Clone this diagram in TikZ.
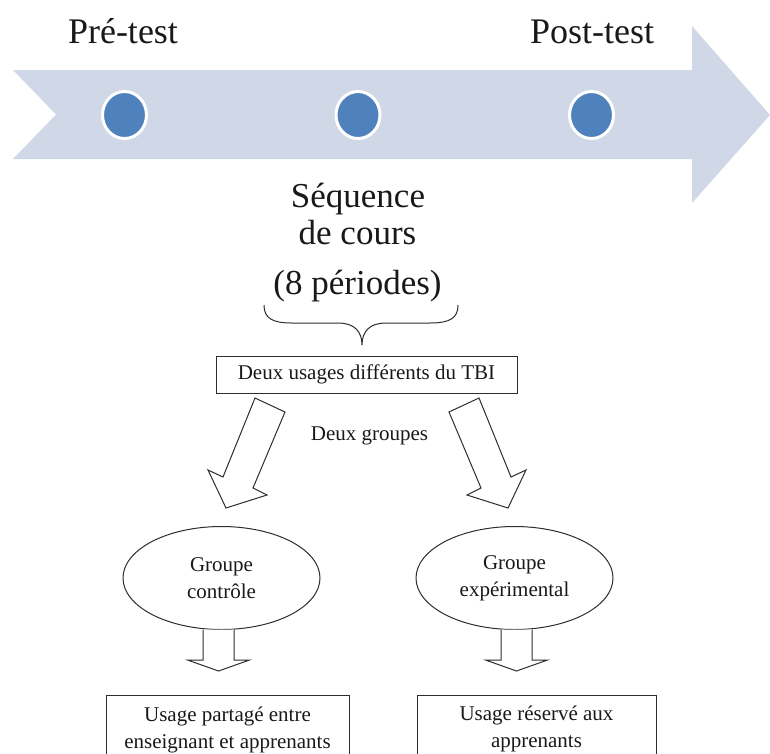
\documentclass[tikz,border=0pt]{standalone}
\usepackage{fontspec}
\setmainfont{Liberation Serif}
\usetikzlibrary{shapes.geometric}
\definecolor{tlfill}{RGB}{208,216,232}
\definecolor{dotfill}{RGB}{79,129,189}
\definecolor{ink}{RGB}{25,25,25}
\definecolor{edge}{RGB}{45,45,45}
\begin{document}
\begin{tikzpicture}[x=1pt,y=-1pt,
  bigtext/.style={font=\fontsize{36}{40}\selectfont, text=ink, inner sep=0, anchor=base},
  seqtext/.style={font=\fontsize{35}{37}\selectfont, text=ink, inner sep=0, anchor=base},
  small/.style={font=\fontsize{21}{27}\selectfont, text=ink},
  dot/.style={ellipse, fill=dotfill, draw=white, line width=3pt, minimum width=44, minimum height=47, inner sep=0},
  boxnode/.style={small, draw=edge, line width=1pt, rectangle, inner sep=0, align=center},
  oval/.style={small, draw=edge, line width=1pt, ellipse, minimum width=197, minimum height=103, inner sep=0, align=center},
  blockarrow/.style={draw=edge, line width=1pt, fill=white, line join=miter},
  bracestyle/.style={draw=edge, line width=1pt}
]
\useasboundingbox (0,0) rectangle (770,753);
\clip (0,0) rectangle (770,753);

% timeline arrow
\fill[tlfill] (13,70) -- (692,70) -- (692,26) -- (770,115) -- (692,203) -- (692,159) -- (13,159) -- (56,114.5) -- cycle;
\node[dot] (d1) at (124.5,115) {};
\node[dot] (d2) at (358,115) {};
\node[dot] (d3) at (591.5,115) {};

\node[bigtext] (pre) at (123,43) {Pré-test};
\node[bigtext] (post) at (592,43) {Post-test};

\node[seqtext] (seq1) at (358,207) {Séquence};
\node[seqtext] (seq2) at (357.5,244) {de cours};
\node[seqtext] (seq3) at (357.5,294) {(8 périodes)};

% brace
\coordinate (bl) at (264,305);
\coordinate (br) at (458,305);
\coordinate (bt) at (362,345);
\draw[bracestyle] (bl) .. controls (264,318) and (272,323) .. (292,323) -- (338,323)
  .. controls (354,323) and (362,331) .. (bt)
  .. controls (362,331) and (370,323) .. (386,323) -- (430,323)
  .. controls (450,323) and (458,318) .. (br);

% box
\node[boxnode, minimum width=301, minimum height=37] (usages) at (366.5,374.5) {Deux usages différents du TBI};
\node[small, inner sep=0] (groupes) at (369.5,436) {Deux groupes};

% diagonal block arrows
\draw[blockarrow] (255,398) -- (285,412) -- (253,488) -- (267,495) -- (226,508) -- (208,470) -- (223,477) -- cycle;
\draw[blockarrow] (479,398) -- (449,412) -- (481,488) -- (467,495) -- (508,508) -- (526,470) -- (511,477) -- cycle;

% ellipses
\node[oval] (ctrl) at (221.5,578) {Groupe\\contrôle};
\node[oval] (expe) at (514.5,578) {Groupe\\expérimental};

% small down arrows
\draw[blockarrow] (203,629.5) -- (203,660) -- (187.5,660) -- (218.5,671) -- (249.5,660) -- (234,660) -- (234,629.5);
\draw[blockarrow] (501,629.5) -- (501,660) -- (485.5,660) -- (516.5,671) -- (547.5,660) -- (532,660) -- (532,629.5);

% bottom boxes
\node[boxnode, minimum width=243, minimum height=68, anchor=north] (shared) at (227.5,695) {Usage partagé entre\\enseignant et apprenants};
\node[boxnode, minimum width=239, minimum height=68, anchor=north] (reserved) at (536.5,694.5) {Usage réservé aux\\apprenants};
\end{tikzpicture}
\end{document}
